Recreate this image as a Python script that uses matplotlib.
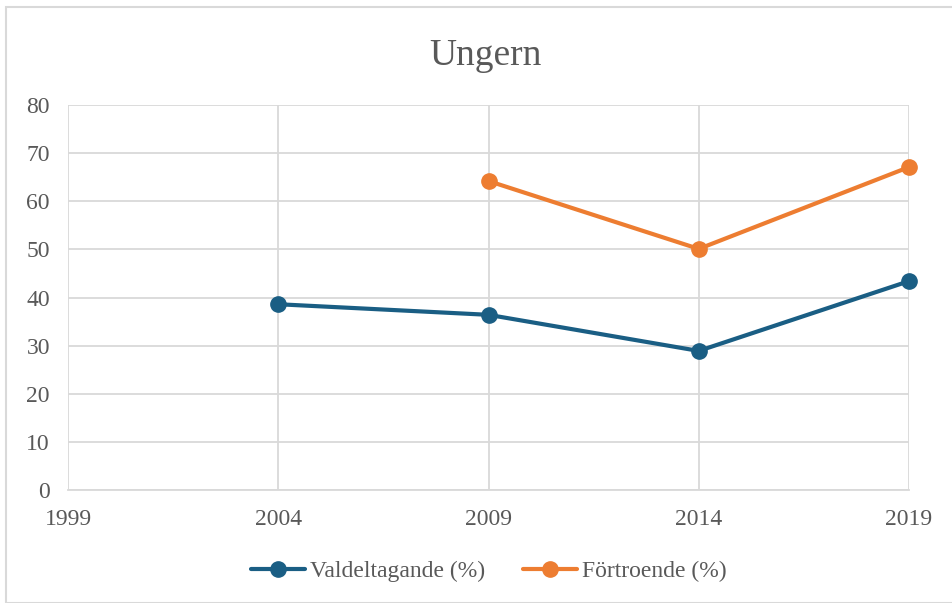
import matplotlib
matplotlib.use("Agg")
import matplotlib.pyplot as plt
from matplotlib.patches import Rectangle

# Election turnout and trust, Hungary
years = [1999, 2004, 2009, 2014, 2019]
turnout_years = [2004, 2009, 2014, 2019]
turnout = [38.6, 36.4, 28.9, 43.4]
trust_years = [2009, 2014, 2019]
trust = [64.2, 50.1, 67.1]

BLUE = "#1A5E84"
ORANGE = "#ED7D31"
TEXT = "#595959"
GRID = "#D9D9D9"

plt.rcParams["font.family"] = ["Liberation Serif", "DejaVu Serif"]

fig = plt.figure(figsize=(9.52, 6.03), dpi=100)
fig.patch.set_facecolor("white")
fig.patches.append(Rectangle((6 / 952, 0.0), 1.2, 1 - 7 / 603, transform=fig.transFigure,
                             fill=False, edgecolor=GRID, linewidth=1.5))

ax = fig.add_axes([68 / 952, 1 - 490 / 603, (909 - 68) / 952, (490 - 105) / 603])
ax.plot(turnout_years, turnout, color=BLUE, linewidth=3, marker="o", markersize=11,
        label="Valdeltagande (%)", solid_capstyle="round", zorder=3, clip_on=False)
ax.plot(trust_years, trust, color=ORANGE, linewidth=3, marker="o", markersize=11,
        label="Förtroende (%)", solid_capstyle="round", zorder=3, clip_on=False)

ax.set_xlim(1999, 2019)
ax.set_ylim(0, 80)
ax.set_xticks(years)
ax.set_yticks(range(0, 81, 10))
ax.grid(True, color=GRID, linewidth=1.3)
ax.set_axisbelow(True)
for side in ["top", "right", "left"]:
    ax.spines[side].set_visible(False)
ax.spines["bottom"].set_color(GRID)
ax.spines["bottom"].set_linewidth(1.3)
ax.tick_params(length=0, labelsize=17, labelcolor=TEXT)
ax.tick_params(axis="x", pad=14)
ax.tick_params(axis="y", pad=13)

fig.text(0.510, 1 - 56 / 603, "Ungern", ha="center", va="center", fontsize=27, color=TEXT)

leg = fig.legend(loc="center", bbox_to_anchor=(0.513, 1 - 571 / 603), ncol=2, frameon=False,
                 fontsize=17, labelcolor=TEXT, handlelength=2.3, columnspacing=1.6,
                 handletextpad=0.2)

fig.savefig("out.png", dpi=100, facecolor="white")
